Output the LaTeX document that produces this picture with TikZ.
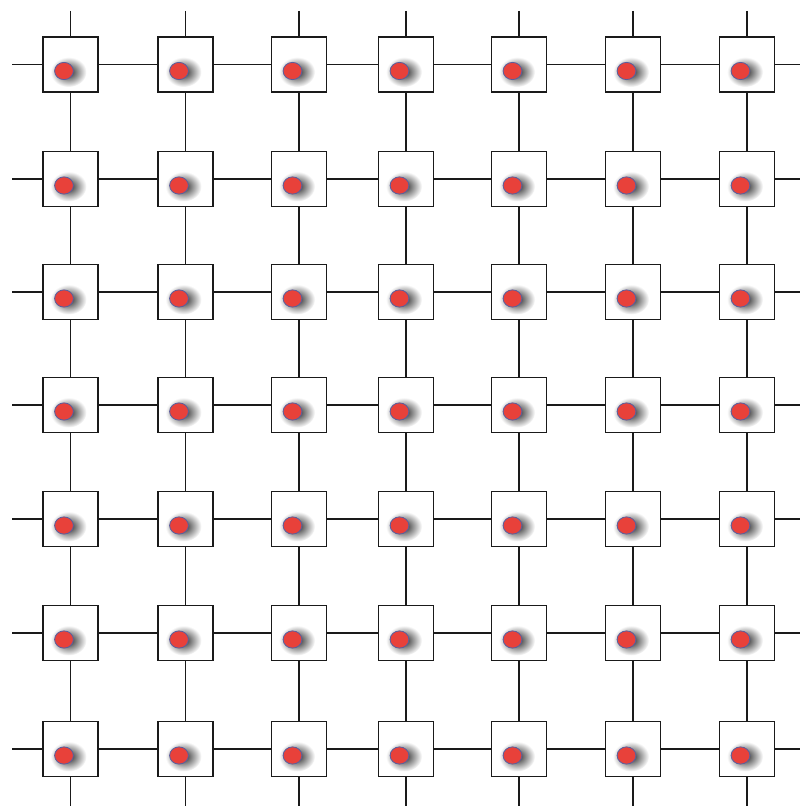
\documentclass[tikz,border=0pt]{standalone}
\usetikzlibrary{positioning,shapes.geometric}
\definecolor{Dot}{HTML}{E8413A}
\definecolor{DotRim}{HTML}{5A5F9E}
\definecolor{Wire}{HTML}{1A1A1A}

\tikzset{
  cell/.style={draw=Wire, line width=1.2pt, fill=white, minimum size=1.375cm, inner sep=0pt},
  dot/.style={ellipse, draw=DotRim, line width=0.6pt, fill=Dot, minimum width=0.47cm, minimum height=0.43cm, inner sep=0pt},
  glow/.style={inner color=black!85, outer color=white},
  wire/.style={draw=Wire, line width=1.2pt},
}

\begin{document}
\begin{tikzpicture}[x=0.025cm,y=-0.025cm]
    \useasboundingbox (0,0) rectangle (800,806);

    % cells with their dots
    \foreach \y [count=\r] in {64.5,179,292,405,519,633,749}{
      \foreach \x [count=\c] in {70.5,185.5,299,406,519,633,747}{
        \node[cell] (n-\r-\c) at (\x,\y) {};
        \shade[glow] (\x-2,\y+7.5) ellipse (18 and 15);
        \node[dot] (d-\r-\c) at (\x-6.5,\y+6.5) {};
      }
    }

    % links between cells
    \foreach \r in {1,...,7}{
      \foreach \c [evaluate=\c as \n using int(\c+1)] in {1,...,6}{
        \draw[wire] (n-\r-\c) -- (n-\r-\n);
        \draw[wire] (n-\c-\r) -- (n-\n-\r);
      }
    }

    % open ends at the border
    \foreach \y [count=\r] in {64.5,179,292,405,519,633,749}{
      \coordinate (w-\r) at (12,\y);
      \coordinate (e-\r) at (800,\y);
      \draw[wire] (w-\r) -- (n-\r-1);
      \draw[wire] (n-\r-7) -- (e-\r);
    }
    \foreach \x [count=\c] in {70.5,185.5,299,406,519,633,747}{
      \coordinate (t-\c) at (\x,11);
      \coordinate (b-\c) at (\x,806);
      \draw[wire] (t-\c) -- (n-1-\c);
      \draw[wire] (n-7-\c) -- (b-\c);
    }
\end{tikzpicture}
\end{document}
